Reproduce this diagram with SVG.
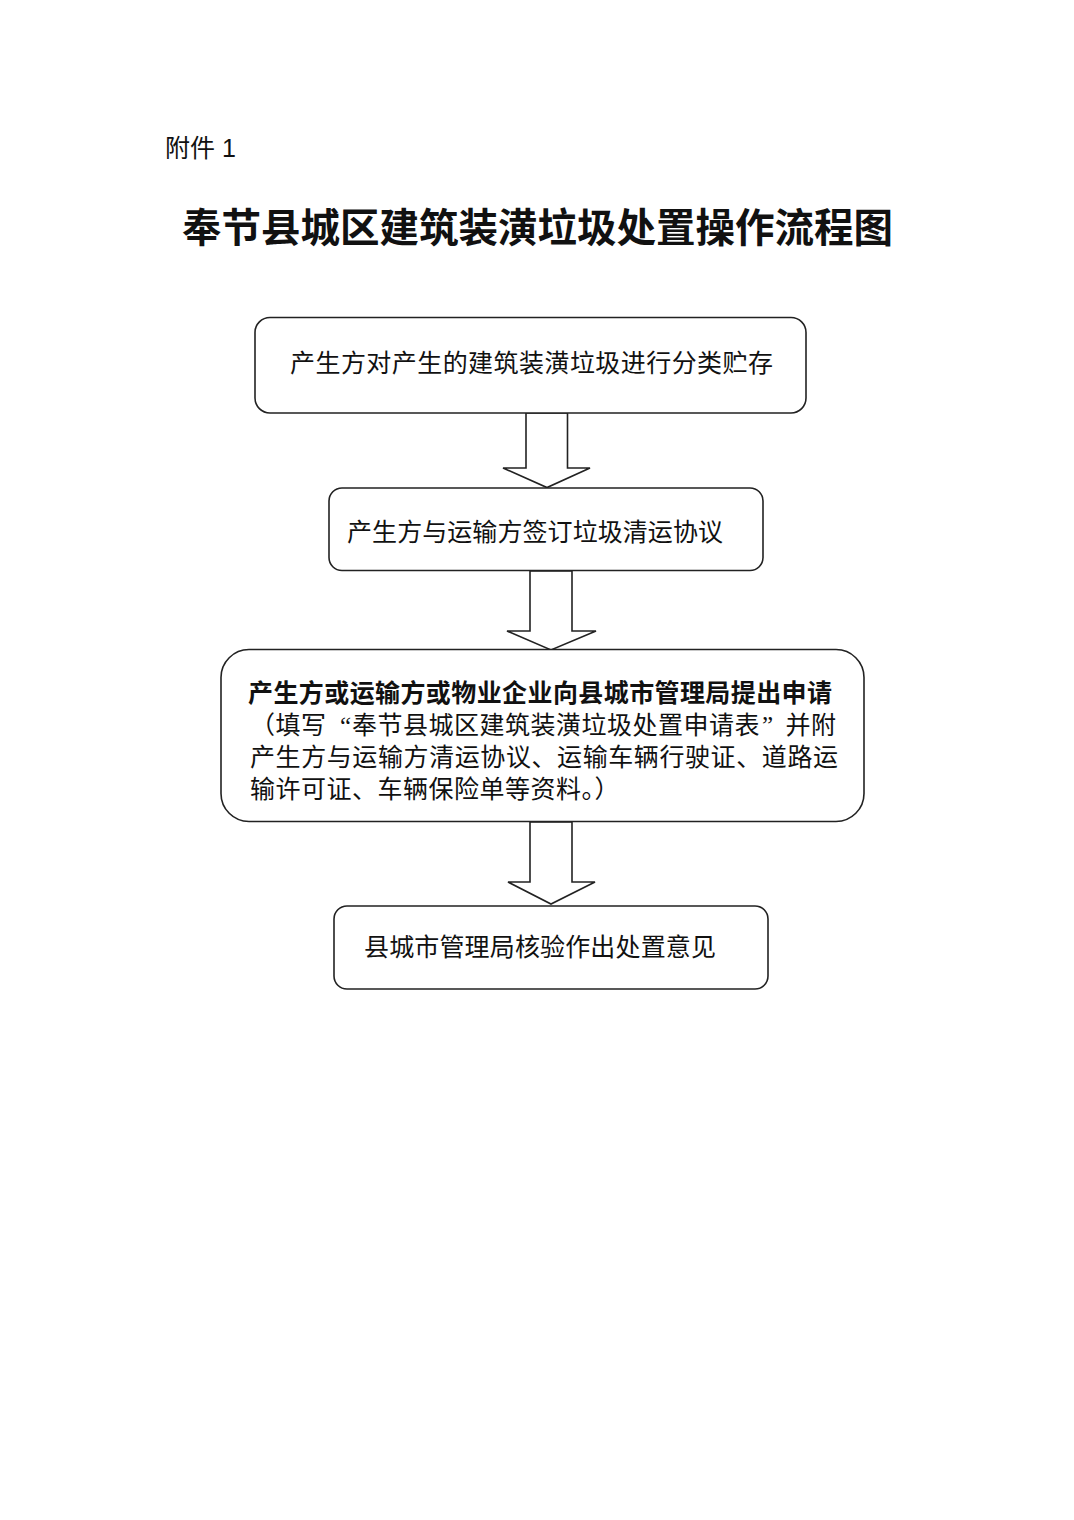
<svg xmlns="http://www.w3.org/2000/svg" width="1074" height="1520" viewBox="0 0 1074 1520">
<style>
.box{fill:#fff;stroke:#222;stroke-width:1.6}
.arr{fill:#fff;stroke:#222;stroke-width:1.6;stroke-linejoin:miter}
.t{font-family:"Liberation Serif","Noto Sans CJK SC",serif;font-size:25px;fill:#111}
.b{font-weight:bold}
.hd{font-family:"Liberation Sans","Noto Sans CJK SC",sans-serif;font-size:25px;fill:#111}
.ti{font-family:"Liberation Serif","Noto Sans CJK SC",serif;font-size:39.5px;font-weight:bold;fill:#111}
</style>
<rect width="1074" height="1520" fill="#fff"/>
<text id="attach" class="hd" x="165" y="157">附件 1</text>
<text id="title" class="ti" x="182" y="242" textLength="711" lengthAdjust="spacing">奉节县城区建筑装潢垃圾处置操作流程图</text>
<g id="connectors">
<polygon class="arr" points="526,413 567.5,413 567.5,468 590,468 547,487.5 503,468 526,468"/>
<polygon class="arr" points="530,571 572,571 572,631 596,631 551,650 507,631 530,631"/>
<polygon class="arr" points="530,822 572,822 572,882 595,882 551,904 508,882 530,882"/>
</g>
<g id="node1">
<rect class="box" x="255" y="317.5" width="551" height="95.5" rx="15" ry="15"/>
<text class="t" x="290" y="372" textLength="483" lengthAdjust="spacing">产生方对产生的建筑装潢垃圾进行分类贮存</text>
</g>
<g id="node2">
<rect class="box" x="329" y="488" width="434" height="82.5" rx="13" ry="13"/>
<text class="t" x="347" y="541" textLength="376" lengthAdjust="spacing">产生方与运输方签订垃圾清运协议</text>
</g>
<g id="node3">
<rect class="box" x="221" y="649.5" width="643" height="172" rx="28" ry="28"/>
<text class="t b" x="248" y="702" textLength="584" lengthAdjust="spacing">产生方或运输方或物业企业向县城市管理局提出申请</text>
<text class="t" x="250" y="734" letter-spacing="0.5"><tspan>（填写</tspan><tspan x="340">“</tspan><tspan x="352">奉节县城区建筑装潢垃圾处置申请表</tspan><tspan x="762">”</tspan><tspan x="785.5">并附</tspan></text>
<text class="t" x="250" y="766" textLength="588" lengthAdjust="spacing">产生方与运输方清运协议、运输车辆行驶证、道路运</text>
<text class="t" x="250" y="798" letter-spacing="0.5">输许可证、车辆保险单等资料。）</text>
</g>
<g id="node4">
<rect class="box" x="334" y="906" width="434" height="83" rx="13" ry="13"/>
<text class="t" x="364" y="956" textLength="352" lengthAdjust="spacing">县城市管理局核验作出处置意见</text>
</g>
</svg>
